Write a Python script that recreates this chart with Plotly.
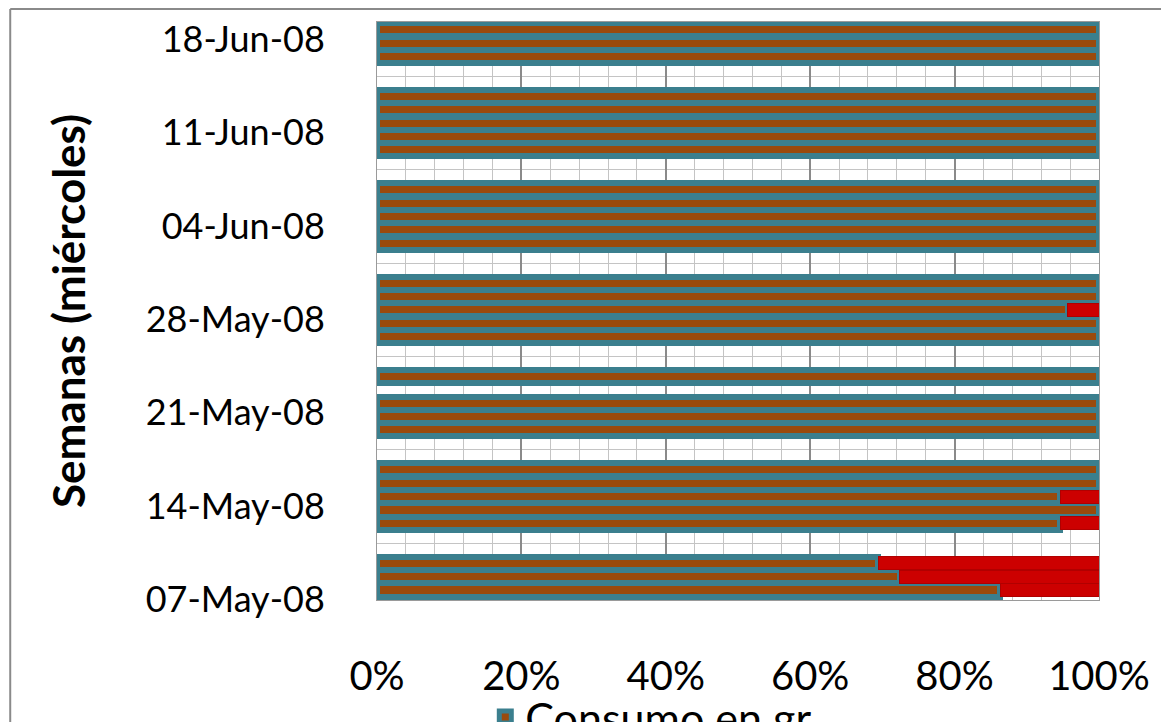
import plotly.graph_objects as go
import pandas as pd

# Days (each bar) and consumption share (%)
dias = [
    "2008-05-07", "2008-05-08", "2008-05-09",
    "2008-05-12", "2008-05-13", "2008-05-14", "2008-05-15", "2008-05-16",
    "2008-05-19", "2008-05-20", "2008-05-21", "2008-05-23",
    "2008-05-26", "2008-05-27", "2008-05-28", "2008-05-29", "2008-05-30",
    "2008-06-02", "2008-06-03", "2008-06-04", "2008-06-05", "2008-06-06",
    "2008-06-09", "2008-06-10", "2008-06-11", "2008-06-12", "2008-06-13",
    "2008-06-16", "2008-06-17", "2008-06-18",
]
consumo = [
    86.3, 72.4, 69.4,
    94.6, 100, 94.6, 100, 100,
    100, 100, 100, 100,
    100, 100, 95.7, 100, 100,
    100, 100, 100, 100, 100,
    100, 100, 100, 100, 100,
    100, 100, 100,
]
resto = [round(100 - v, 1) for v in consumo]

semanas = ["2008-05-07", "2008-05-14", "2008-05-21", "2008-05-28",
           "2008-06-04", "2008-06-11", "2008-06-18"]
semanas_txt = ["07-May-08", "14-May-08", "21-May-08", "28-May-08",
               "04-Jun-08", "11-Jun-08", "18-Jun-08"]
x_ticks = [0, 20, 40, 60, 80, 100]
x_ticks_txt = ["0%", "20%", "40%", "60%", "80%", "100%"]

DAY_MS = 86400000
FONT = "Lato"

# labels sit slightly below their day (3-D depth offset of the original)
semanas_pos = [(pd.Timestamp(s) - pd.Timedelta(hours=17)).strftime("%Y-%m-%d %H:%M")
               for s in semanas]

fig = go.Figure()
fig.add_trace(go.Bar(
    y=dias, x=consumo, orientation="h", name="Consumo en gr",
    width=DAY_MS * 0.98,
    marker=dict(color="#9A4A0C", line=dict(color="#3B7F8E", width=6)),
))
fig.add_trace(go.Bar(
    y=dias, x=resto, orientation="h", name="Resto",
    width=DAY_MS * 0.98, showlegend=False,
    marker=dict(color="#CC0000", line=dict(color="#B00000", width=1)),
))

fig.update_layout(
    width=1169, height=722,
    barmode="stack",
    paper_bgcolor="white", plot_bgcolor="white",
    margin=dict(l=369, r=78, t=14, b=130, autoexpand=False),
    font=dict(family=FONT, color="black"),
    showlegend=True,
    legend=dict(x=0.15, y=-0.143, xanchor="left", yanchor="top",
                orientation="h", font=dict(size=43, family=FONT),
                bgcolor="rgba(0,0,0,0)"),
    xaxis=dict(
        range=[0, 100], tickvals=x_ticks, ticktext=x_ticks_txt,
        tickfont=dict(size=40, family=FONT),
        showgrid=True, gridcolor="#8a8a8a", gridwidth=1.5,
        minor=dict(dtick=4, showgrid=True, gridcolor="#c4c4c4", gridwidth=1),
        showline=True, linecolor="#9a9a9a", mirror=True,
        zeroline=False, ticks="", ticklabelstandoff=41, automargin=False,
        ticklabeloverflow="allow",
    ),
    yaxis=dict(
        type="date",
        range=["2008-05-06 06:00", "2008-06-18 14:00"],
        tickvals=semanas_pos, ticktext=semanas_txt,
        tickfont=dict(size=36, family=FONT),
        showgrid=False,
        minor=dict(tick0="2008-05-06 12:00", dtick=DAY_MS, showgrid=True,
                   gridcolor="#c4c4c4", gridwidth=1),
        showline=True, linecolor="#9a9a9a", mirror=True,
        ticks="", ticklabelstandoff=44, automargin=False,
        ticklabeloverflow="allow",
        title=dict(text="<b>Semanas (miércoles)</b>",
                   font=dict(size=44, family=FONT), standoff=46),
    ),
    shapes=[
        dict(type="line", xref="paper", yref="paper",
             x0=-0.508, x1=1.2, y0=1.0225, y1=1.0225,
             line=dict(color="#8a8a8a", width=2)),
        dict(type="line", xref="paper", yref="paper",
             x0=-0.508, x1=-0.508, y0=1.0225, y1=-0.3,
             line=dict(color="#8a8a8a", width=2)),
    ],
)

fig.write_html("out.html")
